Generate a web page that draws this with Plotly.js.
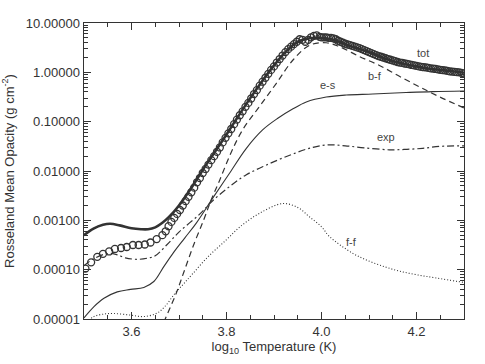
<!DOCTYPE html>
<html>
<head>
<meta charset="utf-8">
<script src="https://cdn.plot.ly/plotly-3.0.1.min.js"></script>
<style>
  html, body { margin: 0; padding: 0; background: #fff; }
  #plot { width: 485px; height: 364px; }
</style>
</head>
<body>
<div id="plot"></div>
<script>
// log10 T (K) and opacity values
const totT = [3.500, 3.520, 3.540, 3.555, 3.575, 3.600, 3.620, 3.635, 3.650, 3.665, 3.680, 3.700, 3.725, 3.750, 3.775, 3.800, 3.825, 3.850, 3.875, 3.900, 3.925, 3.950, 3.975, 4.000, 4.025, 4.050, 4.075, 4.100, 4.125, 4.150, 4.175, 4.200, 4.225, 4.250, 4.275, 4.300];
const totK = [5.0e-4, 6.8e-4, 8.1e-4, 8.5e-4, 7.9e-4, 6.9e-4, 6.6e-4, 6.6e-4, 7.2e-4, 8.9e-4, 1.2e-3, 2.0e-3, 4.4e-3, 1.05e-2, 2.4e-2, 5.5e-2, 0.13, 0.30, 0.66, 1.38, 2.63, 4.17, 4.90, 5.0, 4.57, 3.72, 3.09, 2.57, 2.04, 1.70, 1.48, 1.32, 1.20, 1.12, 1.05, 0.98];

// open circles (grid points), denser where the grid is finer
const circT = [
  3.503, 3.515, 3.528, 3.540, 3.553, 3.565, 3.578, 3.590, 3.603, 3.615, 3.628, 3.640, 3.653, 3.665,
  3.672, 3.678, 3.684, 3.690, 3.696, 3.702, 3.708, 3.714, 3.720, 3.726, 3.732, 3.738, 3.744, 3.750,
  3.756, 3.762, 3.768, 3.774, 3.780, 3.786, 3.792, 3.798, 3.804, 3.810, 3.816, 3.822, 3.828, 3.834,
  3.840, 3.846, 3.852, 3.858, 3.864, 3.870, 3.876, 3.882, 3.888, 3.894, 3.900, 3.906, 3.912, 3.918,
  3.924, 3.930, 3.936, 3.942, 3.948, 3.954, 3.960, 3.966, 3.972, 3.978, 3.984, 3.990, 3.996,
  4.000, 4.005, 4.010, 4.015, 4.020, 4.025, 4.030, 4.035, 4.040, 4.045, 4.050, 4.055, 4.060, 4.065,
  4.070, 4.075, 4.080, 4.085, 4.090, 4.095, 4.100, 4.105, 4.110, 4.115, 4.120, 4.125, 4.130, 4.135,
  4.140, 4.145, 4.150, 4.155, 4.160, 4.165, 4.170, 4.175, 4.180, 4.185, 4.190, 4.195, 4.200, 4.205,
  4.210, 4.215, 4.220, 4.225, 4.230, 4.235, 4.240, 4.245, 4.250, 4.255, 4.260, 4.265, 4.270, 4.275,
  4.280, 4.285, 4.290, 4.295, 4.300];
const circK = [
  1.05e-4, 1.41e-4, 1.82e-4, 2.09e-4, 2.34e-4, 2.63e-4, 2.75e-4, 2.88e-4, 3.16e-4, 3.16e-4, 3.24e-4, 3.55e-4, 4.17e-4, 5.0e-4,
  6.0e-4, 7.6e-4, 9.3e-4, 1.12e-3, 1.35e-3, 1.62e-3, 2.0e-3, 2.45e-3, 3.0e-3, 3.7e-3, 4.6e-3, 5.9e-3, 7.2e-3, 9.1e-3,
  1.10e-2, 1.35e-2, 1.66e-2, 2.0e-2, 2.45e-2, 3.0e-2, 3.8e-2, 4.7e-2, 5.8e-2, 7.1e-2, 8.9e-2, 0.110, 0.135, 0.162,
  0.200, 0.240, 0.295, 0.363, 0.437, 0.537, 0.646, 0.776, 0.933, 1.12, 1.32, 1.58, 1.86, 2.19,
  2.57, 2.95, 3.31, 3.72, 4.17, 4.68, 4.57, 4.17, 4.57, 5.13, 5.50, 5.62, 5.25,
  5.13, 5.13, 5.13, 5.01, 5.01, 4.90, 4.68, 4.37, 4.17, 3.98, 3.80, 3.67, 3.55, 3.43,
  3.31, 3.20, 3.09, 2.95, 2.82, 2.69, 2.57, 2.45, 2.34, 2.24, 2.14, 2.07, 2.0, 1.93,
  1.86, 1.80, 1.74, 1.68, 1.62, 1.58, 1.55, 1.51, 1.48, 1.45, 1.41, 1.38, 1.35, 1.32,
  1.29, 1.27, 1.26, 1.23, 1.20, 1.19, 1.17, 1.15, 1.12, 1.11, 1.10, 1.07, 1.05, 1.035,
  1.02, 1.01, 1.00, 0.977, 0.955];

const bfT = [3.660, 3.671, 3.694, 3.712, 3.732, 3.752, 3.767, 3.785, 3.810, 3.835, 3.869, 3.905, 3.940, 3.975, 4.010, 4.038, 4.080, 4.122, 4.164, 4.206, 4.248, 4.300];
const bfK = [5.6e-6, 1.0e-5, 3.3e-5, 1.0e-4, 3.4e-4, 1.02e-3, 2.5e-3, 6.3e-3, 2.4e-2, 7.1e-2, 0.20, 0.60, 1.78, 3.55, 3.98, 3.31, 2.09, 1.38, 0.83, 0.51, 0.32, 0.19];

const esT = [3.500, 3.521, 3.542, 3.570, 3.598, 3.626, 3.647, 3.668, 3.688, 3.712, 3.736, 3.771, 3.806, 3.841, 3.876, 3.908, 3.940, 3.968, 4.010, 4.052, 4.108, 4.178, 4.234, 4.300];
const esK = [1.05e-5, 1.78e-5, 2.63e-5, 3.55e-5, 3.98e-5, 4.37e-5, 5.75e-5, 1.15e-4, 2.19e-4, 4.37e-4, 8.7e-4, 2.82e-3, 8.9e-3, 2.82e-2, 6.8e-2, 0.117, 0.182, 0.251, 0.316, 0.347, 0.363, 0.389, 0.407, 0.417];

const expT = [3.500, 3.520, 3.552, 3.570, 3.587, 3.612, 3.637, 3.650, 3.674, 3.701, 3.743, 3.771, 3.806, 3.841, 3.884, 3.933, 3.982, 4.017, 4.050, 4.090, 4.143, 4.180, 4.213, 4.250, 4.300];
const expK = [1.2e-4, 1.66e-4, 2.14e-4, 2.0e-4, 1.74e-4, 1.62e-4, 1.74e-4, 1.91e-4, 3.16e-4, 5.9e-4, 1.32e-3, 2.5e-3, 4.8e-3, 8.3e-3, 1.32e-2, 2.09e-2, 3.02e-2, 3.39e-2, 3.24e-2, 2.95e-2, 2.69e-2, 2.75e-2, 2.88e-2, 3.16e-2, 3.24e-2];

const ffT = [3.500, 3.521, 3.542, 3.563, 3.598, 3.626, 3.654, 3.670, 3.690, 3.710, 3.729, 3.760, 3.799, 3.830, 3.869, 3.918, 3.950, 3.975, 4.000, 4.017, 4.066, 4.101, 4.136, 4.165, 4.200, 4.241, 4.300];
const ffK = [7.9e-6, 1.12e-5, 1.26e-5, 1.29e-5, 1.2e-5, 1.12e-5, 1.32e-5, 1.78e-5, 3.16e-5, 5.2e-5, 8.3e-5, 1.78e-4, 3.98e-4, 7.6e-4, 1.38e-3, 2.19e-3, 1.82e-3, 1.17e-3, 7.4e-4, 4.68e-4, 2.14e-4, 1.48e-4, 1.12e-4, 9.3e-5, 7.9e-5, 6.8e-5, 5.5e-5];

// axis ticks
const xTicks = [3.6, 3.8, 4.0, 4.2];
const xTickText = ['3.6', '3.8', '4.0', '4.2'];
const yTicks = [1e-5, 1e-4, 1e-3, 1e-2, 1e-1, 1, 10];
const yTickText = ['0.00001', '0.00010', '0.00100', '0.01000', '0.10000', '1.00000', '10.00000'];

// minor ticks 2..9 in every decade
const yMinor = [];
for (let d = -5; d < 1; d++) {
  for (let m = 2; m <= 9; m++) yMinor.push(m * Math.pow(10, d));
}

const ink = '#333333';
const font = 'Liberation Sans, Arial, Helvetica, sans-serif';

const data = [
  {x: ffT, y: ffK, type: 'scatter', mode: 'lines', name: 'f-f',
   line: {color: ink, width: 1.1, dash: '1px,2px', shape: 'spline', smoothing: 1.0}},
  {x: expT, y: expK, type: 'scatter', mode: 'lines', name: 'exp',
   line: {color: ink, width: 1.2, dash: '7px,3px,2px,3px', shape: 'spline'}},
  {x: esT, y: esK, type: 'scatter', mode: 'lines', name: 'e-s',
   line: {color: ink, width: 1.1, shape: 'spline'}},
  {x: bfT, y: bfK, type: 'scatter', mode: 'lines', name: 'b-f',
   line: {color: ink, width: 1.2, dash: '6px,4px', shape: 'spline'}},
  {x: totT, y: totK, type: 'scatter', mode: 'lines', name: 'tot',
   line: {color: ink, width: 2.6, shape: 'spline'}},
  {x: circT, y: circK, type: 'scatter', mode: 'markers', name: 'tot (points)',
   marker: {symbol: 'circle-open', size: 7, color: ink, line: {width: 1.3, color: ink}}}
];

const labels = [
  {text: 'tot', x: 4.213, y: 0.386},
  {text: 'b-f', x: 4.112, y: -0.074},
  {text: 'e-s', x: 4.013, y: -0.257},
  {text: 'exp', x: 4.136, y: -1.317},
  {text: 'f-f', x: 4.063, y: -3.44}
];

const layout = {
  width: 485,
  height: 364,
  margin: {l: 84, r: 21, t: 23, b: 45},
  paper_bgcolor: '#fff',
  plot_bgcolor: '#fff',
  showlegend: false,
  font: {family: font, size: 13, color: ink},
  xaxis: {
    range: [3.5, 4.3],
    tickvals: xTicks,
    ticktext: xTickText,
    ticks: 'inside',
    ticklen: 7,
    tickwidth: 1,
    tickcolor: ink,
    minor: {ticks: 'inside', dtick: 0.05, tick0: 3.5, ticklen: 4, tickcolor: ink, showgrid: false},
    showline: true,
    linecolor: ink,
    linewidth: 1.4,
    mirror: 'allticks',
    showgrid: false,
    zeroline: false,
    tickfont: {size: 13, color: ink},
    title: {text: 'log<sub>10</sub> Temperature (K)', font: {size: 13, color: ink}, standoff: 2}
  },
  yaxis: {
    type: 'log',
    range: [-5, 1],
    tickvals: yTicks,
    ticktext: yTickText,
    ticks: 'inside',
    ticklen: 7,
    tickwidth: 1,
    tickcolor: ink,
    minor: {ticks: 'inside', tickmode: 'array', tickvals: yMinor, ticklen: 4, tickcolor: ink, showgrid: false},
    showline: true,
    linecolor: ink,
    linewidth: 1.4,
    mirror: 'allticks',
    showgrid: false,
    zeroline: false,
    tickfont: {size: 13, color: ink},
    title: {text: 'Rosseland Mean Opacity (g cm<sup>-2</sup>)', font: {size: 13, color: ink}, standoff: 8}
  },
  annotations: labels.map(l => ({
    text: l.text, x: l.x, y: l.y, xref: 'x', yref: 'y',
    showarrow: false, font: {size: 11, color: '#444'}
  }))
};

Plotly.newPlot('plot', data, layout, {staticPlot: true, displayModeBar: false});
</script>
</body>
</html>
